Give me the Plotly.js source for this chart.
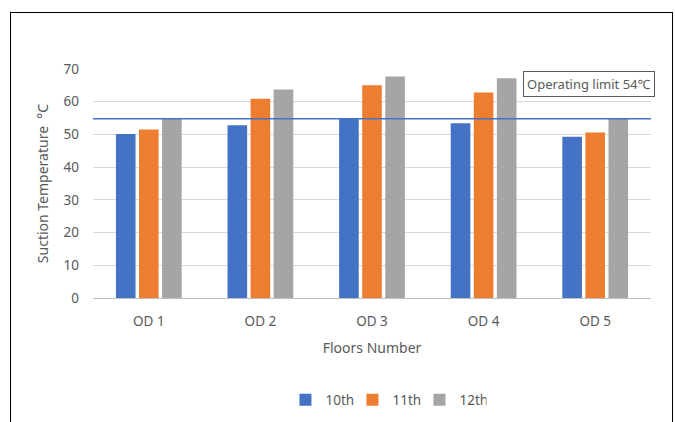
<!DOCTYPE html>
<html>
<head>
<meta charset="utf-8">
<script src="https://cdn.plot.ly/plotly-3.0.1.min.js"></script>
<style>
  html, body { margin: 0; padding: 0; background: #fff; }
  #wrap { position: relative; width: 675px; height: 422px; overflow: hidden; }
  #chart { position: absolute; left: 0; top: 0; width: 675px; height: 422px; }
  #frame { position: absolute; left: 10px; top: 12px; width: 661px; height: 420px;
           border: 1px solid #000; pointer-events: none; }
</style>
</head>
<body>
<div id="wrap">
  <div id="chart"></div>
  <div id="frame"></div>
</div>
<script>
const categories = ["OD 1", "OD 2", "OD 3", "OD 4", "OD 5"];
const seriesNames = ["10th", "11th", "12th"];
const values10 = [50.1, 52.8, 55.0, 53.4, 49.3];
const values11 = [51.5, 60.9, 65.0, 62.8, 50.6];
const values12 = [55.0, 63.7, 67.7, 67.2, 55.0];
const limitValue = 54.8;
const limitLabel = "Operating limit 54℃";
const yTicks = [0, 10, 20, 30, 40, 50, 60, 70];

const colors = ["#4472C4", "#ED7D31", "#A5A5A5"];
const allValues = [values10, values11, values12];
const font = "Noto Sans, Liberation Sans, sans-serif";
const txt = "#595959";

const traces = seriesNames.map((n, i) => ({
  type: "bar",
  name: n,
  x: categories,
  y: allValues[i],
  marker: { color: colors[i] },
  hoverinfo: "skip"
}));

const layout = {
  width: 675, height: 422,
  margin: { l: 93, r: 24, t: 69, b: 124, autoexpand: false },
  paper_bgcolor: "#fff", plot_bgcolor: "#fff",
  barmode: "group",
  bargap: 0.38,
  bargroupgap: 0.15,
  font: { family: font, size: 13.5, color: txt },
  showlegend: true,
  legend: {
    orientation: "h", x: 0.525, xanchor: "center", y: -0.445, yanchor: "middle",
    font: { family: font, size: 13.5, color: txt },
    itemwidth: 30, entrywidth: 22, entrywidthmode: "pixels", traceorder: "normal"
  },
  xaxis: {
    type: "category",
    showgrid: false,
    showline: true, linecolor: "#BFBFBF", linewidth: 1,
    ticks: "",
    ticklabelstandoff: 11,
    tickfont: { family: font, size: 13.5, color: txt },
    title: { text: "Floors Number", font: { family: font, size: 14, color: txt }, standoff: 13 },
    automargin: false
  },
  yaxis: {
    range: [0, 70],
    tickvals: yTicks,
    showgrid: true, gridcolor: "#D9D9D9", gridwidth: 1,
    zeroline: false,
    showline: false,
    ticks: "",
    ticklabelstandoff: 13,
    tickfont: { family: font, size: 13.5, color: txt },
    title: { text: "Suction Temperature  °C", font: { family: font, size: 14, color: txt }, standoff: 11 },
    automargin: false
  },
  shapes: [{
    type: "line", xref: "paper", yref: "y",
    x0: 0, x1: 1, y0: limitValue, y1: limitValue,
    line: { color: "#4472C4", width: 1.5 }
  }],
  annotations: [{
    xref: "paper", yref: "y",
    x: 0.889, y: 65.4, xanchor: "center", yanchor: "middle",
    text: limitLabel, showarrow: false,
    font: { family: font, size: 13, color: txt },
    bordercolor: "#595959", borderwidth: 1, borderpad: 3,
    bgcolor: "#fff"
  }]
};

Plotly.newPlot("chart", traces, layout, { displayModeBar: false, staticPlot: true });
</script>
</body>
</html>
